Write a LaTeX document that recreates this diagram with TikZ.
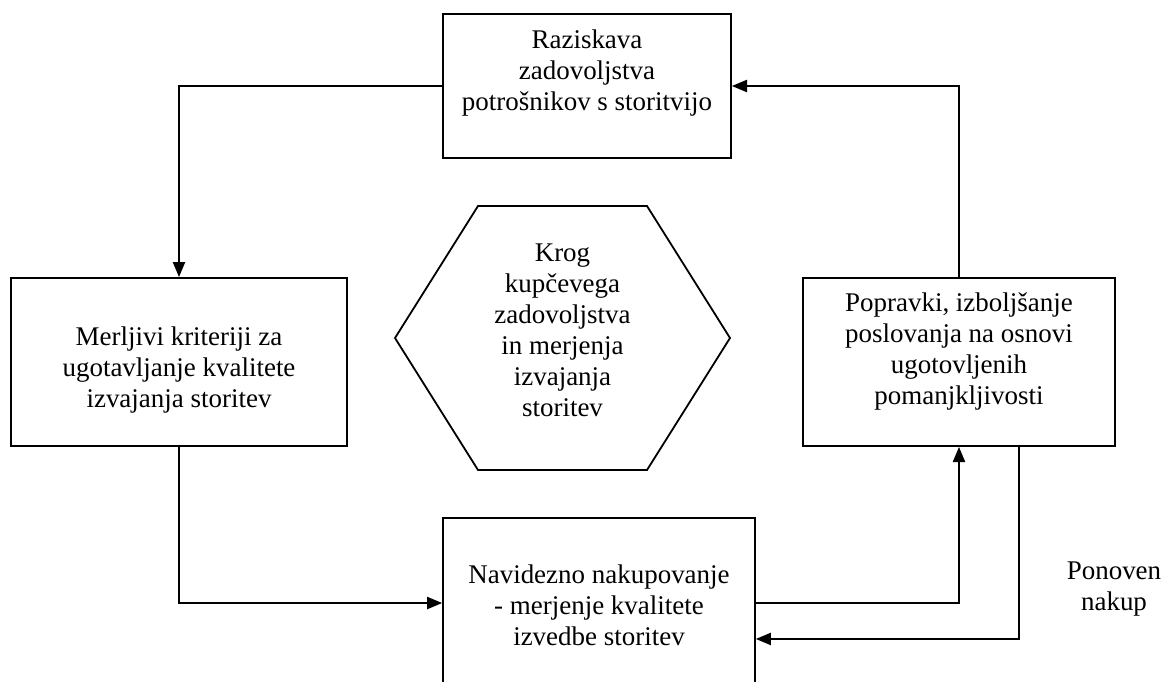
\documentclass[tikz,border=0pt]{standalone}
\usepackage{fontspec}
\setmainfont{Liberation Serif}
\usepackage{tikz}
\usetikzlibrary{arrows.meta}
\usetikzlibrary{positioning}
\tikzset{
    state/.style={
           rectangle,
           draw=black, thick,
           inner sep=0pt,
           font=\fontsize{12}{13.8}\selectfont,
           text centered},
    flow/.style={
           draw=black, thick,
           -{Triangle[length=6.7pt,width=5.4pt]}},
}

\begin{document}
\begin{tikzpicture}[x=0.445pt,y=-0.445pt]

 \useasboundingbox (0,0) rectangle (1163,681);

 \node[state,
 minimum width=128.2pt,
 minimum height=64.1pt] (RAZISKAVA) at (587,86)
 {\begin{tabular}{c}
  Raziskava\\
  zadovoljstva\\
  potrošnikov s storitvijo\\[11.6pt]
 \end{tabular}};

 \node[state,
 minimum width=149.5pt,
 minimum height=74.8pt] (MERLJIVI) at (179,362)
 {\begin{tabular}{c}
  Merljivi kriteriji za\\
  ugotavljanje kvalitete\\
  izvajanja storitev\\[-7pt]
 \end{tabular}};

 \node[state,
 right of=MERLJIVI,
 node distance=347.1pt,
 minimum width=138.8pt,
 minimum height=74.8pt] (POPRAVKI)
 {\begin{tabular}{c}
  Popravki, izboljšanje\\
  poslovanja na osnovi\\
  ugotovljenih\\
  pomanjkljivosti\\[9pt]
 \end{tabular}};

 \node[state,
 minimum width=138.8pt,
 minimum height=75.7pt] (NAVIDEZNO) at (599,603)
 {\begin{tabular}{c}
  Navidezno nakupovanje\\
  - merjenje kvalitete\\
  izvedbe storitev\\[-4.4pt]
 \end{tabular}};

 % hexagon in the middle
 \node[font=\fontsize{12}{13.8}\selectfont, inner sep=0pt] (KROG) at (562.5,338)
 {\begin{tabular}{c}
  Krog\\
  kupčevega\\
  zadovoljstva\\
  in merjenja\\
  izvajanja\\
  storitev\\[4.4pt]
 \end{tabular}};
 \draw[thick] (KROG.center) ++(-167.5,0) -- ++(83,-132) -- ++(169,0)
  -- ++(83,132) -- ++(-83,132) -- ++(-169,0) -- cycle;

 \node[font=\fontsize{12}{13.8}\selectfont, inner sep=0pt] (PONOVEN) at (1114,589)
 {\begin{tabular}{c}
  Ponoven\\
  nakup
 \end{tabular}};

 \draw[flow] (RAZISKAVA.west) -| (MERLJIVI.north);
 \draw[flow] (MERLJIVI.south) |- (NAVIDEZNO.west);
 \draw[flow] (NAVIDEZNO.east) -| (POPRAVKI.south);
 \draw[flow] ([xshift=26.7pt]POPRAVKI.south) |- ([yshift=-16pt]NAVIDEZNO.east);
 \draw[flow] (POPRAVKI.north) |- (RAZISKAVA.east);

\end{tikzpicture}
\end{document}
